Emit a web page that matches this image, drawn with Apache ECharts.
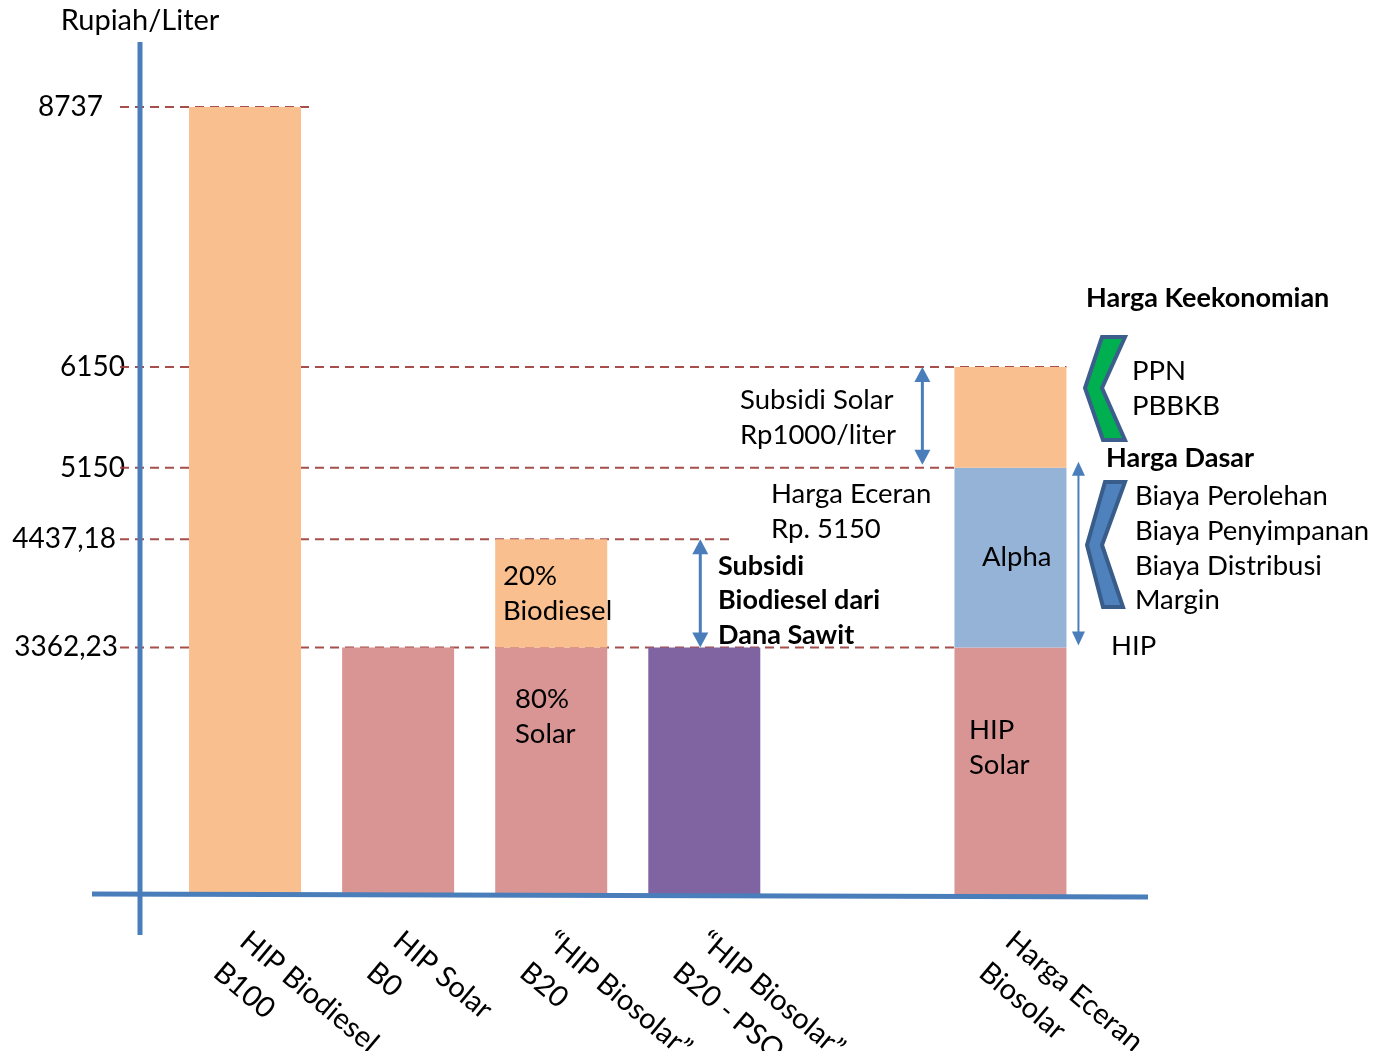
<!DOCTYPE html>
<html><head><meta charset="utf-8">
<script src="https://cdn.jsdelivr.net/npm/echarts@6/dist/echarts.min.js"></script>
<style>html,body{margin:0;padding:0;background:#fff}#c{width:1374px;height:1051px}</style>
</head><body><div id="c"></div>
<script>
// ---- data ----
const categories = ['HIP Biodiesel\nB100', 'HIP Solar\nB0', '\u201CHIP Biosolar\u201D\nB20', '\u201CHIP Biosolar\u201D\nB20 - PSO', '', 'Harga Eceran\nBiosolar'];
const hipSolar   = [null, 3362.23, 3362.23, null, null, 3362.23];   // pink (HIP Solar / 80% Solar)
const hipPSO     = [null, null, null, 3362.23, null, null];         // purple
const alphaPart  = [null, null, null, null, null, 1787.77];         // blue (5150 - 3362.23)
const upperPart  = [8737, null, 1074.95, null, null, 1000];          // orange (Biodiesel / PPN+PBBKB)
const tickValues = [3362.23, 4437.18, 5150, 6150, 8737];

const FONT = 'Lato, "Open Sans", sans-serif';
const tickRich = {
  t0: { fontSize: 28, fontFamily: FONT, color: '#000', padding: [0, 0, 0, 0] },
  t7: { fontSize: 28, fontFamily: FONT, color: '#000', padding: [0, 7, 0, 0] },
  t9: { fontSize: 28, fontFamily: FONT, color: '#000', padding: [0, 9, 0, 0] },
  t22: { fontSize: 28, fontFamily: FONT, color: '#000', padding: [0, 22, 0, 0] }
};
const tickFmt = v => {
  const s = String(v).replace('.', ',');
  const k = v === 8737 ? 't22' : v === 4437.18 ? 't9' : v === 3362.23 ? 't7' : 't0';
  return '{' + k + '|' + s + '}';
};

const chart = echarts.init(document.getElementById('c'));
chart.setOption({
  animation: false,
  grid: { left: 168.5, right: 287, top: 107, bottom: 156, containLabel: false, outerBoundsMode: 'none' },
  xAxis: {
    type: 'category', data: categories,
    axisLine: { show: false }, axisTick: { show: false },
    axisLabel: { interval: 0, rotate: -40, align: 'left', verticalAlign: 'top', margin: 16, padding: [0, 0, 0, 16],
      lineHeight: 41, fontSize: 29, fontFamily: FONT, color: '#000' }
  },
  yAxis: {
    type: 'value', min: 900, max: 8737, offset: 28.5,
    name: 'Rupiah/Liter', nameLocation: 'end', nameGap: 72,
    nameTextStyle: { fontSize: 29, fontFamily: FONT, color: '#000' },
    axisLine: { show: false }, axisTick: { show: false }, splitLine: { show: false },
    axisLabel: { customValues: tickValues, formatter: tickFmt, rich: tickRich,
      fontSize: 28, fontFamily: FONT, color: '#000', margin: 15 }
  },
  series: [
    { name: 'HIP Solar', type: 'bar', stack: 's', barWidth: 112, data: hipSolar, itemStyle: { color: '#D99594' } },
    { name: 'HIP Biosolar B20 - PSO', type: 'bar', stack: 's', barWidth: 112, data: hipPSO, itemStyle: { color: '#8064A2' } },
    { name: 'Alpha', type: 'bar', stack: 's', barWidth: 112, data: alphaPart, itemStyle: { color: '#95B3D7' } },
    { name: 'Biodiesel / Pajak', type: 'bar', stack: 's', barWidth: 112, data: upperPart, itemStyle: { color: '#F9BF8F' } }
  ]
});

// ---- annotations, positioned through the chart's own scales ----
const Y = v => chart.convertToPixel({ yAxisIndex: 0 }, v);
const X = i => chart.convertToPixel({ xAxisIndex: 0 }, i);
const HB = 56; // half bar width
const els = [];
const BLUE = '#4A7EBB';

// axis lines
els.push({ type: 'line', z: 20, shape: { x1: 140, y1: 42, x2: 140, y2: 935 }, style: { stroke: BLUE, lineWidth: 5 } });
els.push({ type: 'line', z: 20, shape: { x1: 92, y1: 894, x2: 1148, y2: 897 }, style: { stroke: BLUE, lineWidth: 5 } });

// dashed reference lines
const dashed = [[8737, X(0) + HB + 11], [6150, X(5) + HB], [5150, X(5) - HB], [4437.18, X(3) + 29], [3362.23, X(5) - HB]];
dashed.forEach(([v, xe]) => {
  const y = Y(v);
  els.push({ type: 'line', z: 1, shape: { x1: 120, y1: y, x2: xe, y2: y },
    style: { stroke: '#9B3B39', opacity: 0.9, lineWidth: 2, lineDash: [9, 6] } });
});

function arrow(x, yTop, yBot, w, len, lw) {
  els.push({ type: 'line', z: 15, shape: { x1: x, y1: yTop + len - 1, x2: x, y2: yBot - len + 1 }, style: { stroke: BLUE, lineWidth: lw } });
  els.push({ type: 'polygon', z: 15, shape: { points: [[x, yTop], [x - w / 2, yTop + len], [x + w / 2, yTop + len]] }, style: { fill: BLUE } });
  els.push({ type: 'polygon', z: 15, shape: { points: [[x, yBot], [x - w / 2, yBot - len], [x + w / 2, yBot - len]] }, style: { fill: BLUE } });
}
arrow(X(4) + 65, Y(6150), Y(5150) - 3, 16, 15, 3);
arrow(X(3) - 4, Y(4437.18), Y(3362.23), 16, 15, 3);
arrow(X(5) + 68, Y(5150) - 6, Y(3362.23) - 2, 13, 14, 2);

function txt(s, x, y, bold, size) {
  els.push({ type: 'text', z: 30, style: { text: s, x: x, y: y, fill: '#000', textAlign: 'left', textVerticalAlign: 'middle',
    fontFamily: FONT, fontSize: size || 27.5, fontWeight: bold ? 'bold' : 'normal' } });
}
const midSub = (Y(6150) + Y(5150)) / 2;
txt('Subsidi Solar', 740, midSub - 17.5);
txt('Rp1000/liter', 740, midSub + 17.5);
txt('Harga Eceran', 771, Y(5150) + 26);
txt('Rp. 5150', 771, Y(5150) + 61);
txt('Subsidi', 718, 566, true, 27);
txt('Biodiesel dari', 718, 600, true, 27);
txt('Dana Sawit', 718, 635, true, 27);
txt('20%', 503, 576);
txt('Biodiesel', 503, 611);
txt('80%', 515, 699);
txt('Solar', 515, 734);
txt('Alpha', 982, (Y(5150) + Y(3362.23)) / 2);
txt('HIP', 969, 730);
txt('Solar', 969, 765);
txt('Harga Keekonomian', 1086, 298, true, 27);
txt('PPN', 1132, 371);
txt('PBBKB', 1132, 406);
txt('Harga Dasar', 1106, 458, true, 27);
txt('Biaya Perolehan', 1135, 496);
txt('Biaya Penyimpanan', 1135, 531);
txt('Biaya Distribusi', 1135, 566);
txt('Margin', 1135, 600);
txt('HIP', 1111, 646);

// chevrons
els.push({ type: 'polygon', z: 12, shape: { points: [[1102, 337], [1125, 337], [1102, 388], [1125, 440], [1103, 440], [1085, 388]] },
  style: { fill: '#00B050', stroke: '#3B5E8C', lineWidth: 4, lineJoin: 'miter' } });
els.push({ type: 'polygon', z: 12, shape: { points: [[1105, 482], [1125, 482], [1102, 545], [1123, 607], [1103, 607], [1087, 545]] },
  style: { fill: '#4F81BD', stroke: '#385D8A', lineWidth: 4, lineJoin: 'miter' } });

chart.setOption({ graphic: { elements: els } });
</script>
</body></html>
